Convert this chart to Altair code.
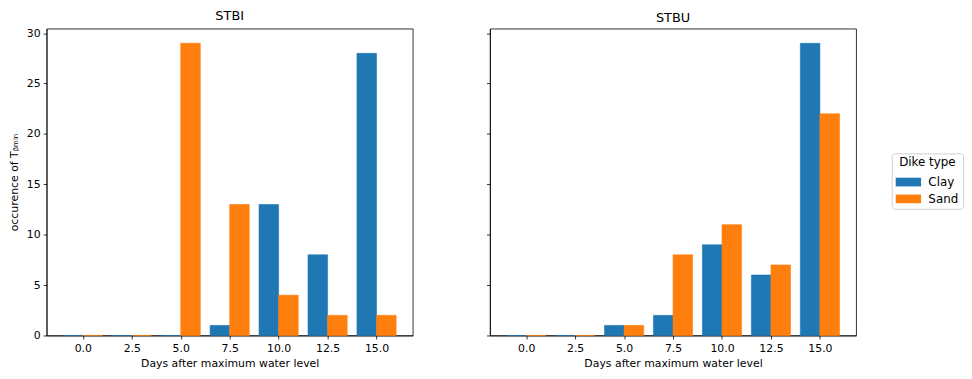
import altair as alt
import pandas as pd

days = [0.0, 2.5, 5.0, 7.5, 10.0, 12.5, 15.0]
stbi_clay = [0, 0, 0, 1, 13, 8, 28]
stbi_sand = [0, 0, 29, 13, 4, 2, 2]
stbu_clay = [0, 0, 1, 2, 9, 6, 29]
stbu_sand = [0, 0, 1, 8, 11, 7, 22]
panels = ["STBI", "STBU"]
types = ["Clay", "Sand"]
colors = ["#1f77b4", "#ff7f0e"]
x_ticks = [0.0, 2.5, 5.0, 7.5, 10.0, 12.5, 15.0]
y_ticks = [0, 5, 10, 15, 20, 25, 30]

rows = []
for panel, clay, sand in zip(panels, [stbi_clay, stbu_clay], [stbi_sand, stbu_sand]):
    for d, c, s in zip(days, clay, sand):
        rows.append(dict(panel=panel, day=d, type="Clay", count=c))
        rows.append(dict(panel=panel, day=d, type="Sand", count=s))
df = pd.DataFrame(rows)

FONT = "DejaVu Sans"
W, H = 370, 310


def panel_chart(name, first):
    yaxis = alt.Axis(values=y_ticks, format="d", title="occurence of Tᵦₘᵢₙ",
                     minExtent=22, maxExtent=22, titlePadding=5) if first else \
        alt.Axis(values=y_ticks, labels=False, title=None, ticks=True)
    legend = alt.Legend(
        title="Dike type", orient="none", legendX=854, legendY=126,
        titleAnchor="middle", titleFontSize=12, labelFontSize=12,
        titleFont=FONT, labelFont=FONT, titleFontWeight="normal",
        titleColor="black", labelColor="black",
        symbolType="M-1,-0.55H2.2V0.55H-1Z", symbolSize=256,
        symbolStrokeWidth=0, labelOffset=17, rowPadding=3,
        strokeColor="#d0d0d0", fillColor="white", padding=4, cornerRadius=3,
    ) if first else None
    return (
        alt.Chart(df, title=alt.Title(name))
        .transform_filter(alt.datum.panel == name)
        .transform_calculate(x0="datum.day + (datum.type == 'Clay' ? -1 : 0)")
        .transform_calculate(x1="datum.x0 + 1")
        .mark_bar(strokeWidth=0.6)
        .encode(
            x=alt.X("x0:Q", scale=alt.Scale(domain=[-1.85, 16.85], nice=False, zero=False),
                    axis=alt.Axis(values=x_ticks, format=".1f", labelPadding=4, titlePadding=4,
                                  title="Days after maximum water level")),
            x2="x1:Q",
            y=alt.Y("count:Q", scale=alt.Scale(domain=[0, 30.45], nice=False), axis=yaxis),
            y2=alt.datum(0),
            color=alt.Color("type:N", scale=alt.Scale(domain=types, range=colors), legend=legend),
            stroke=alt.Stroke("type:N", scale=alt.Scale(domain=types, range=colors), legend=None),
        )
        .properties(width=W, height=H)
    )


chart = (
    alt.hconcat(panel_chart("STBI", True), panel_chart("STBU", False), spacing=72)
    .resolve_scale(y="shared", color="shared")
    .properties(padding=0)
    .configure_view(stroke="black", strokeWidth=0.8)
    .configure_axis(
        grid=False, domainColor="black", domainWidth=0.8, tickColor="black",
        tickWidth=0.8, tickSize=3.5, labelColor="black", titleColor="black",
        labelFont=FONT, titleFont=FONT, labelFontSize=11, titleFontSize=11,
        titleFontWeight="normal", labelPadding=3,
    )
    .configure_title(font=FONT, fontSize=13, fontWeight="normal", color="black", offset=0)
)

chart.save("out.html", embed_options={"renderer": "svg", "actions": False})
